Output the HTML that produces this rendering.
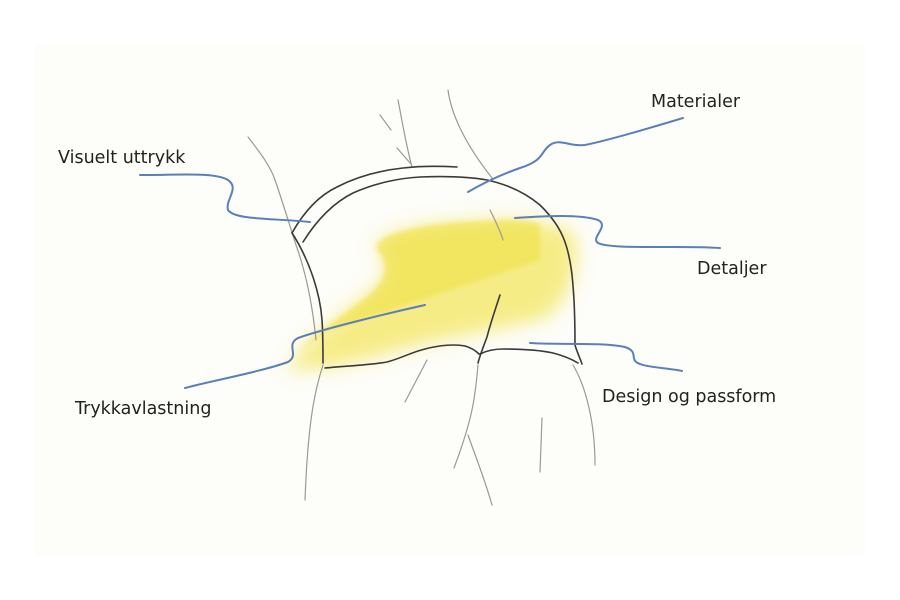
<!DOCTYPE html>
<html><head><meta charset="utf-8"><style>
html,body{margin:0;padding:0;background:#fff}
svg{display:block}
text{font-family:"DejaVu Sans","Liberation Sans",sans-serif;font-size:17.5px;fill:#222}
</style></head><body>
<svg width="900" height="600" viewBox="0 0 900 600">
<defs>
<filter id="b" x="-20%" y="-20%" width="140%" height="140%"><feGaussianBlur stdDeviation="9"/></filter>
<filter id="b2"><feGaussianBlur stdDeviation="2"/></filter>
</defs>
<rect width="900" height="600" fill="#fff"/>
<rect x="35" y="45" width="830" height="510" fill="#fdfdf9"/>
<g filter="url(#b)">
<path d="M377,243 C395,228 440,222 503,220 C535,220 560,224 575,235 C580,270 570,300 545,318 C500,330 460,335 420,345 C380,355 340,370 287,370 C300,345 330,325 360,300 C385,285 395,265 377,250 Z" fill="#f2e44a" opacity="0.65"/>
</g>
<path d="M377,243 C395,228 440,222 503,220 C520,219 530,221 540,224 L540,260 L420,300 L330,330 L300,350 C320,330 340,318 360,302 C385,285 392,265 377,250 Z" fill="#efe040" opacity="0.55" filter="url(#b2)"/>
<g fill="none" stroke="#999" stroke-width="1.2" stroke-linecap="round">
<path d="M248,137 C258,150 270,165 275,180 C282,200 288,220 296,245 C305,270 312,300 316,340"/>
<path d="M380,115 L391,130"/><path d="M397,148 L411,164"/>
<path d="M398,100 C402,120 406,145 412,167"/>
<path d="M448,90 C452,120 470,150 492,178"/>
<path d="M323,365 C315,390 308,420 305,500"/>
<path d="M427,360 L405,402"/>
<path d="M478,365 C475,400 472,420 454,468"/>
<path d="M468,435 C475,455 485,480 492,505"/>
<path d="M542,418 L540,472"/>
<path d="M573,365 C585,385 595,420 595,465"/>
<path d="M490,210 C495,220 500,230 503,240"/>
</g>
<g fill="none" stroke="#3a3a3a" stroke-width="1.6" stroke-linecap="round">
<path d="M292,233 C305,210 320,195 337,187 C360,175 385,170 403,168 C420,166 440,166 457,167"/>
<path d="M303,242 C318,218 335,202 353,193 C375,183 400,178 420,177 C445,176 470,177 487,180 C510,185 528,195 540,205 C552,217 560,228 565,242 C572,262 573,285 574,300 C575,320 575,335 575,345 C577,352 580,358 582,364"/>
<path d="M292,233 C300,245 308,262 313,277 C318,292 321,305 322,320 C323,335 323,350 323,363"/>
<path d="M325,368 C345,366 370,365 387,362 C402,358 412,352 425,349 C440,345 455,344 465,346 C472,348 476,351 479,354"/>
<path d="M480,354 C488,350 495,349 503,349 C520,349 540,350 553,353 C565,356 573,360 578,363"/>
<path d="M500,295 C495,310 490,325 487,337 C484,345 480,355 478,363"/>
</g>
<g fill="none" stroke="#5b7fb8" stroke-width="2" stroke-linecap="round">
<path d="M140,175 C180,175 215,172 228,180 C240,188 225,200 228,210 C235,220 270,218 310,222"/>
<path d="M683,118 C650,128 610,140 585,145 C570,147 560,138 550,145 C540,152 545,160 520,168 C500,175 480,185 468,192"/>
<path d="M515,218 C545,216 580,214 598,220 C610,226 590,238 598,243 C612,250 680,245 720,248"/>
<path d="M530,343 C560,345 600,342 625,347 C640,352 628,360 640,364 C650,368 670,368 682,371"/>
<path d="M185,388 C215,380 260,372 288,362 C300,355 285,345 298,338 C320,330 380,315 425,305"/>
</g>
<text x="651" y="107">Materialer</text>
<text x="58" y="163">Visuelt uttrykk</text>
<text x="697" y="274">Detaljer</text>
<text x="602" y="402">Design og passform</text>
<text x="75" y="414">Trykkavlastning</text>
</svg>
</body></html>
